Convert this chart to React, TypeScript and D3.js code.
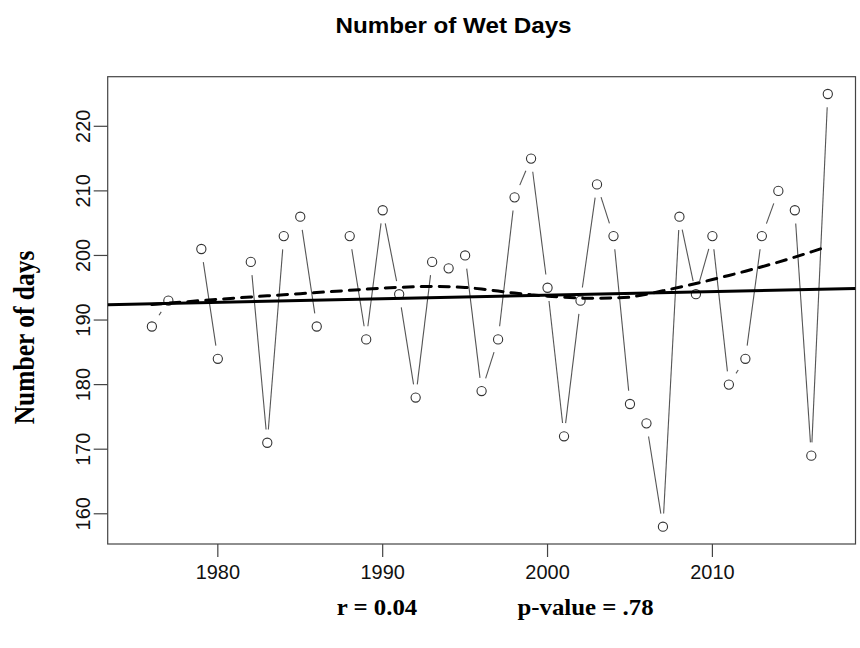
import React from "react";
import * as d3 from "d3";

// ---- data ----
const years: number[] = [
  1976, 1977, 1979, 1980, 1982, 1983, 1984, 1985, 1986, 1988, 1989, 1990, 1991,
  1992, 1993, 1994, 1995, 1996, 1997, 1998, 1999, 2000, 2001, 2002, 2003, 2004,
  2005, 2006, 2007, 2008, 2009, 2010, 2011, 2012, 2013, 2014, 2015, 2016, 2017,
];
const wetDays: number[] = [
  189, 193, 201, 184, 199, 171, 203, 206, 189, 203, 187, 207, 194,
  178, 199, 198, 200, 179, 187, 209, 215, 195, 172, 193, 211, 203,
  177, 174, 158, 206, 194, 203, 180, 184, 203, 210, 207, 169, 225,
];
const missingYears: number[] = [1975, 1978, 1981, 1987];
const xTicks: number[] = [1980, 1990, 2000, 2010];
const yTicks: number[] = [160, 170, 180, 190, 200, 210, 220];
const titleText = "Number of Wet Days";
const yLabel = "Number of days";
const rText = "r = 0.04";
const pText = "p-value = .78";

// R's lowess (clowess) port
function lowess(x: number[], y: number[], f = 2 / 3, nsteps = 3): number[] {
  const n = x.length;
  const ys = new Array(n).fill(0);
  const rw = new Array(n).fill(1);
  const res = new Array(n).fill(0);
  const w = new Array(n).fill(0);
  const delta = 0.01 * (x[n - 1] - x[0]);
  const ns = Math.max(2, Math.min(n, Math.floor(f * n + 1e-7)));
  const fcube = (v: number) => v * v * v;
  const lowest = (xs: number, nleft: number, nright: number, userw: boolean) => {
    const range = x[n - 1] - x[0];
    const h = Math.max(xs - x[nleft], x[nright] - xs);
    const h9 = 0.999 * h;
    const h1 = 0.001 * h;
    let a = 0;
    let j = nleft;
    while (j < n) {
      w[j] = 0;
      const r = Math.abs(x[j] - xs);
      if (r <= h9) {
        if (r <= h1) w[j] = 1;
        else w[j] = fcube(1 - fcube(r / h));
        if (userw) w[j] *= rw[j];
        a += w[j];
      } else if (x[j] > xs) break;
      j++;
    }
    const nrt = j - 1;
    if (a <= 0) return null;
    for (j = nleft; j <= nrt; j++) w[j] /= a;
    if (h > 0) {
      a = 0;
      for (j = nleft; j <= nrt; j++) a += w[j] * x[j];
      let b = xs - a;
      let c = 0;
      for (j = nleft; j <= nrt; j++) c += w[j] * (x[j] - a) * (x[j] - a);
      if (Math.sqrt(c) > 0.001 * range) {
        b /= c;
        for (j = nleft; j <= nrt; j++) w[j] *= b * (x[j] - a) + 1;
      }
    }
    let out = 0;
    for (j = nleft; j <= nrt; j++) out += w[j] * y[j];
    return out;
  };
  let iter = 1;
  while (iter <= nsteps + 1) {
    let nleft = 0;
    let nright = ns - 1;
    let last = -1;
    let i = 0;
    for (;;) {
      if (nright < n - 1) {
        const d1 = x[i] - x[nleft];
        const d2 = x[nright + 1] - x[i];
        if (d1 > d2) {
          nleft++;
          nright++;
          continue;
        }
      }
      const v = lowest(x[i], nleft, nright, iter > 1);
      ys[i] = v === null ? y[i] : v;
      if (last < i - 1) {
        const denom = x[i] - x[last];
        for (let j = last + 1; j < i; j++) {
          const alpha = (x[j] - x[last]) / denom;
          ys[j] = alpha * ys[i] + (1 - alpha) * ys[last];
        }
      }
      last = i;
      const cut = x[last] + delta;
      for (i = last + 1; i < n; i++) {
        if (x[i] > cut) break;
        if (x[i] === x[last]) {
          ys[i] = ys[last];
          last = i;
        }
      }
      i = Math.max(last + 1, i - 1);
      if (last >= n - 1) break;
    }
    for (let k = 0; k < n; k++) res[k] = y[k] - ys[k];
    if (iter > nsteps) break;
    const absr = res.map((r) => Math.abs(r)).sort((a, b) => a - b);
    const m1 = Math.floor(n / 2);
    let cmad: number;
    if (n % 2 === 0) cmad = 3 * (absr[m1] + absr[n - m1 - 1]);
    else cmad = 6 * absr[m1];
    const c9 = 0.999 * cmad;
    const c1 = 0.001 * cmad;
    for (let k = 0; k < n; k++) {
      const r = Math.abs(res[k]);
      if (r <= c1) rw[k] = 1;
      else if (r <= c9) rw[k] = (1 - (r / cmad) ** 2) ** 2;
      else rw[k] = 0;
    }
    iter++;
  }
  return ys;
}

export default function App() {
  const W = 860;
  const H = 648;
  const left = 107.7;
  const right = 855.5;
  const top = 76.7;
  const bottom = 544;

  const allX = [...years, ...missingYears];
  const xr = d3.extent(allX) as [number, number];
  const yr = d3.extent(wetDays) as [number, number];
  const xpad = (xr[1] - xr[0]) * 0.04;
  const ypad = (yr[1] - yr[0]) * 0.04;
  const x = d3.scaleLinear().domain([xr[0] - xpad, xr[1] + xpad]).range([left, right]);
  const y = d3.scaleLinear().domain([yr[0] - ypad, yr[1] + ypad]).range([bottom, top]);

  // observations with NA gaps
  const allYears = d3.range(xr[0], xr[1] + 1);
  const lookup = new Map(years.map((yy, i) => [yy, wetDays[i]]));
  const series = allYears.map((yy) => ({ year: yy, v: lookup.has(yy) ? (lookup.get(yy) as number) : null }));

  // type = "b" segments
  const gap = 13.3;
  const segs: string[] = [];
  for (let i = 0; i < series.length - 1; i++) {
    const a = series[i];
    const b = series[i + 1];
    if (a.v === null || b.v === null) continue;
    const x0 = x(a.year), y0 = y(a.v), x1 = x(b.year), y1 = y(b.v);
    const L = Math.hypot(x1 - x0, y1 - y0);
    if (L <= 2 * gap) continue;
    const ux = (x1 - x0) / L, uy = (y1 - y0) / L;
    segs.push(`M${x0 + ux * gap},${y0 + uy * gap}L${x1 - ux * gap},${y1 - uy * gap}`);
  }

  // linear regression
  const mx = d3.mean(years) as number;
  const my = d3.mean(wetDays) as number;
  let sxy = 0, sxx = 0;
  years.forEach((yy, i) => {
    sxy += (yy - mx) * (wetDays[i] - my);
    sxx += (yy - mx) * (yy - mx);
  });
  const slope = sxy / sxx;
  const icpt = my - slope * mx;
  const [dx0, dx1] = x.domain();
  const regPath = d3.line<number>().x((d) => x(d)).y((d) => y(icpt + slope * d))([dx0, dx1]) as string;

  // lowess
  const lw = lowess(years, wetDays);
  const lowPath = d3
    .line<number>()
    .x((_, i) => x(years[i]))
    .y((d) => y(d))(lw) as string;

  const frame = "#444";
  const sans = "Liberation Sans, Arial, sans-serif";
  const serif = "Liberation Serif, Times New Roman, serif";

  return (
    <svg width={W} height={H} style={{ position: "absolute", left: 0, top: 0, background: "#fff" }}>
      <rect x={0} y={0} width={W} height={H} fill="#fff" />
      <defs>
        <clipPath id="plotclip">
          <rect x={left} y={top} width={right - left} height={bottom - top} />
        </clipPath>
      </defs>
      {/* title */}
      <text
        transform={`translate(${453.5},${33}) scale(1.1,1)`}
        textAnchor="middle"
        fontFamily={sans}
        fontWeight="bold"
        fontSize={22}
        fill="#000"
      >
        {titleText}
      </text>
      {/* frame */}
      <rect x={left} y={top} width={right - left} height={bottom - top} fill="none" stroke={frame} strokeWidth={1.2} />
      {/* y axis */}
      {yTicks.map((t) => (
        <g key={t}>
          <line x1={left - 14} x2={left} y1={y(t)} y2={y(t)} stroke={frame} strokeWidth={1.2} />
          <text
            transform={`translate(${89.5},${y(t)}) scale(1,0.95) rotate(-90)`}
            textAnchor="middle"
            fontFamily={sans}
            fontSize={21}
            fill="#111"
          >
            {t}
          </text>
        </g>
      ))}
      {/* x axis */}
      {xTicks.map((t) => (
        <g key={t}>
          <line x1={x(t)} x2={x(t)} y1={bottom} y2={bottom + 13} stroke={frame} strokeWidth={1.2} />
          <text
            transform={`translate(${x(t)},${578.5}) scale(0.95,1)`}
            textAnchor="middle"
            fontFamily={sans}
            fontSize={21}
            fill="#111"
          >
            {t}
          </text>
        </g>
      ))}
      {/* y label */}
      <text
        transform={`translate(${33.5},${337.5}) scale(1.1,0.98) rotate(-90)`}
        textAnchor="middle"
        fontFamily={serif}
        fontWeight="bold"
        fontSize={26}
        fill="#000"
      >
        {yLabel}
      </text>
      {/* bottom stats */}
      <text
        transform={`translate(${377},${615}) scale(1.08,1)`}
        textAnchor="middle"
        fontFamily={serif}
        fontWeight="bold"
        fontSize={23}
        fill="#000"
      >
        {rText}
      </text>
      <text
        transform={`translate(${585.5},${615}) scale(1.08,1)`}
        textAnchor="middle"
        fontFamily={serif}
        fontWeight="bold"
        fontSize={23}
        fill="#000"
      >
        {pText}
      </text>
      <g clipPath="url(#plotclip)">
        {segs.map((d, i) => (
          <path key={i} d={d} stroke="#555" strokeWidth={1.1} fill="none" />
        ))}
        {series
          .filter((s) => s.v !== null)
          .map((s) => (
            <circle key={s.year} cx={x(s.year)} cy={y(s.v as number)} r={4.6} fill="none" stroke="#333" strokeWidth={1.1} />
          ))}
        <path d={regPath} stroke="#000" strokeWidth={3} fill="none" />
        <path d={lowPath} stroke="#000" strokeWidth={3} fill="none" strokeDasharray="10 8" strokeLinecap="round" />
      </g>
    </svg>
  );
}
